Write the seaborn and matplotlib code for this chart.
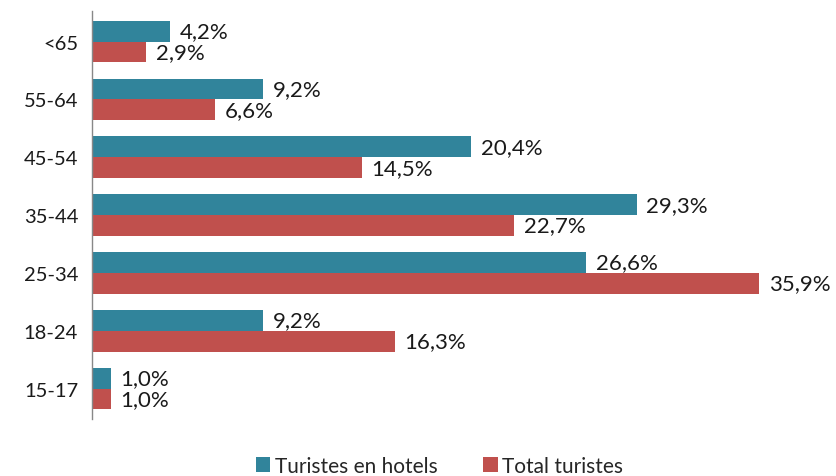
import pandas as pd
import seaborn as sns
import matplotlib.pyplot as plt

edats = ['<65', '55-64', '45-54', '35-44', '25-34', '18-24', '15-17']
hotels = [4.2, 9.2, 20.4, 29.3, 26.6, 9.2, 1.0]
total = [2.9, 6.6, 14.5, 22.7, 35.9, 16.3, 1.0]
series = ['Turistes en hotels', 'Total turistes']

df = pd.DataFrame({
    'edat': edats * 2,
    'valor': hotels + total,
    'serie': [series[0]] * len(edats) + [series[1]] * len(edats),
})

sns.set_style('white')
plt.rcParams['font.family'] = ['Lato', 'DejaVu Sans']

fig = plt.figure(figsize=(8.37, 4.77), dpi=100)
ax = fig.add_axes([0.110, 0.119, 0.888, 0.856])

sns.barplot(data=df, y='edat', x='valor', hue='serie', order=edats, hue_order=series,
            orient='h', palette=['#31849B', '#C0504D'], saturation=1, width=0.72,
            linewidth=0, ax=ax)

for cont, vals in zip(ax.containers, [hotels, total]):
    ax.bar_label(cont, labels=[f'{v:.1f}%'.replace('.', ',') for v in vals],
                 padding=7, fontsize=16, color='#1a1a1a')

ax.set_xlim(0, 40)
ax.set_ylim(6.53, -0.53)
ax.set_xlabel('')
ax.set_ylabel('')
ax.set_xticks([])
ax.tick_params(axis='y', length=0, labelsize=14.5, pad=10, colors='#1a1a1a')
for s in ['top', 'right', 'bottom']:
    ax.spines[s].set_visible(False)
ax.spines['left'].set_color('#888888')
ax.spines['left'].set_linewidth(1)

handles, labels = ax.get_legend_handles_labels()
ax.legend_.remove()
fig.legend(handles, labels, loc='center', bbox_to_anchor=(0.525, 0.022), ncol=2, frameon=False,
           fontsize=15, handlelength=0.7, handleheight=0.7, handletextpad=0.2,
           columnspacing=2.2, borderpad=0)

fig.savefig('out.png', dpi=100)
